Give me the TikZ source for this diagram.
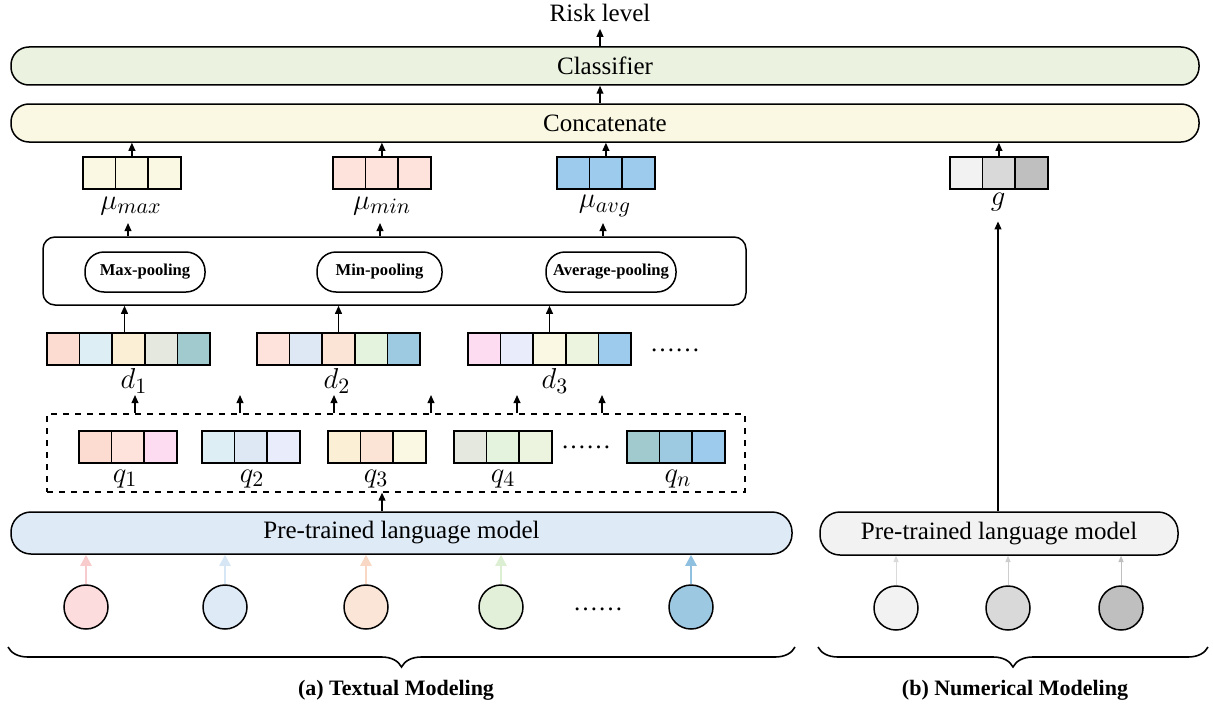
\documentclass[tikz,border=0pt]{standalone}
\usepackage{fontspec}
\setmainfont{Liberation Serif}
\newfontfamily\tnr{Liberation Serif}
\usetikzlibrary{arrows.meta,decorations.pathreplacing}
\definecolor{clsfill}{HTML}{EBF3E0}
\definecolor{catfill}{HTML}{FAF8E2}
\definecolor{plmA}{HTML}{DEEAF6}
\definecolor{plmB}{HTML}{F2F2F2}
% cell colours
\definecolor{cA}{HTML}{FCDCD0}
\definecolor{cB}{HTML}{DDEFF5}
\definecolor{cC}{HTML}{FBEFD6}
\definecolor{cD}{HTML}{E5E8DF}
\definecolor{cE}{HTML}{A0CACE}
\definecolor{cF}{HTML}{FDE3DC}
\definecolor{cG}{HTML}{DDE8F4}
\definecolor{cH}{HTML}{FBE3D6}
\definecolor{cI}{HTML}{E3F3DD}
\definecolor{cJ}{HTML}{9DCAE1}
\definecolor{cK}{HTML}{FDDCF2}
\definecolor{cL}{HTML}{E8ECFB}
\definecolor{cM}{HTML}{FAF8E2}
\definecolor{cN}{HTML}{ECF4DF}
\definecolor{cO}{HTML}{9DCBEE}
\definecolor{gA}{HTML}{F2F2F2}
\definecolor{gB}{HTML}{D9D9D9}
\definecolor{gC}{HTML}{BFBFBF}
\definecolor{iA}{HTML}{FCDCDC}
\definecolor{iB}{HTML}{DEEAF6}
\definecolor{iC}{HTML}{FBE5D6}
\definecolor{iD}{HTML}{E2F0D9}
\definecolor{iE}{HTML}{9DC8E2}
\definecolor{aA}{HTML}{F8CCCC}
\definecolor{aB}{HTML}{D6E6F5}
\definecolor{aC}{HTML}{F8D8C4}
\definecolor{aD}{HTML}{DDEFD2}
\definecolor{aE}{HTML}{8FC0E0}
\newcommand\vecrow[4]{%
  \foreach \cc [count=\i] in {#4} {%
    \node[cell, fill=\cc] (#1-\i) at ({#2+(\i-1)*32.6},#3) {};}}
\begin{document}
\begin{tikzpicture}[x=0.5pt,y=-0.5pt,
  arr/.style={-{Triangle[length=4pt,width=3.4pt]}, line width=0.7pt},
  inarr/.style={-{Triangle[length=5.5pt,width=5.5pt]}, line width=1.2pt},
  thinarr/.style={-{Triangle[length=3.2pt,width=2.6pt]}, line width=0.5pt},
  cell/.style={draw, line width=0.75pt, minimum width=16.3pt, minimum height=16pt,
    inner sep=0pt, outer sep=0pt, anchor=north west},
  pill/.style={draw, line width=0.75pt, rounded corners=9pt, inner sep=0pt},
  maintext/.style={font=\tnr\fontsize{12.5}{14}\selectfont},
  mlabel/.style={font=\fontsize{15}{17}\selectfont, inner sep=0pt},
  poolpill/.style={draw, line width=0.75pt, rounded corners=9.5pt, minimum height=20pt,
    inner sep=0pt, font=\tnr\fontsize{8.3}{10}\selectfont\bfseries},
  inp/.style={circle, draw, line width=0.75pt, minimum size=22pt, inner sep=0pt},
  bracestyle/.style={decorate, decoration={brace, mirror, amplitude=10pt}, line width=0.8pt},
  caption/.style={font=\tnr\fontsize{11}{13}\selectfont\bfseries}
]
\useasboundingbox (0,0) rectangle (1213,706);

% top
\node[maintext] (risk) at (600,13) {Risk level};
\node[pill, fill=clsfill, minimum width=594pt, minimum height=19pt, maintext] (cls) at (605,66) {Classifier};
\node[pill, fill=catfill, minimum width=594pt, minimum height=19pt, maintext] (cat) at (605,123) {Concatenate};
\draw[arr] (cls.north -| risk.south) -- (risk.south);
\draw[arr] (cat.north -| risk.south) -- (cls.south -| risk.south);

% pooled vectors
\vecrow{vmax}{83}{157}{cM,cM,cM}
\vecrow{vmin}{333}{157}{cF,cF,cF}
\vecrow{vavg}{557}{157}{cO,cO,cO}
\vecrow{vg}{950}{157}{gA,gB,gC}
\foreach \v in {vmax,vmin,vavg,vg}
  \draw[arr] (\v-2.north) -- (\v-2.north |- cat.south);

\node[mlabel] (lmax) at (131,206) {$\mu_{max}$};
\node[mlabel] (lmin) at (382,206) {$\mu_{min}$};
\node[mlabel] (lavg) at (605,206) {$\mu_{avg}$};
\node[mlabel] (lg) at (998,202) {$g$};

% pooling box
\node[draw, line width=0.75pt, rounded corners=6pt, minimum width=351.5pt, minimum height=34pt] (pool) at (394.5,271) {};
\node[poolpill, minimum width=60pt] (pmax) at (145,272) {Max-pooling};
\node[poolpill, minimum width=62.5pt] (pmin) at (379.5,272) {Min-pooling};
\node[poolpill, minimum width=65pt] (pavg) at (611,272) {Average-pooling};
\coordinate (amax) at (128,223);
\coordinate (amin) at (380,223);
\coordinate (aavg) at (603,223);
\foreach \a in {amax,amin,aavg}
  \draw[arr] (\a |- pool.north) -- (\a);

% document vectors
\vecrow{d1}{47}{333}{cA,cB,cC,cD,cE}
\vecrow{d2}{257}{333}{cF,cG,cH,cI,cJ}
\vecrow{d3}{468}{333}{cK,cL,cM,cN,cO}
\node[maintext] (ddots) at (675,350) {……};
\draw[arr] ([xshift=-2pt]d1-3.north) -- ([xshift=-2pt]d1-3.north |- pool.south);
\draw[arr] (d2-3.north) -- (d2-3.north |- pool.south);
\draw[arr] (d3-3.north) -- (d3-3.north |- pool.south);
\node[mlabel] (ld1) at (134,381) {$d_1$};
\node[mlabel] (ld2) at (337,381) {$d_2$};
\node[mlabel] (ld3) at (555,381) {$d_3$};

% dashed box with sentence vectors
\node[draw, dashed, line width=0.6pt, minimum width=349pt, minimum height=39pt] (dash) at (396,453) {};
\vecrow{q1}{79}{431}{cA,cF,cK}
\vecrow{q2}{202}{431}{cB,cG,cL}
\vecrow{q3}{328}{431}{cC,cH,cM}
\vecrow{q4}{454}{431}{cD,cI,cN}
\vecrow{qn}{627}{431}{cE,cJ,cO}
\node[maintext] (qdots) at (586,447) {……};
\node[mlabel] (lq1) at (125,479) {$q_1$};
\node[mlabel] (lq2) at (252,479) {$q_2$};
\node[mlabel] (lq3) at (376,479) {$q_3$};
\node[mlabel] (lq4) at (503,479) {$q_4$};
\node[mlabel] (lqn) at (678,479) {$q_n$};
\foreach \x [count=\k] in {135,240,334,431,517,602} {
  \coordinate (t\k) at (\x,395);
  \draw[arr] (t\k |- dash.north) -- (t\k);
}

% language models
\node[pill, fill=plmA, minimum width=390.5pt, minimum height=21pt, rounded corners=10pt, maintext] (plmL) at (401.5,533) {Pre-trained language model};
\node[pill, fill=plmB, minimum width=179pt, minimum height=21.5pt, rounded corners=10pt, maintext] (plmR) at (999,533.5) {Pre-trained language model};
\coordinate (aq) at (382,0);
\draw[arr] (aq |- plmL.north) -- (aq |- dash.south);
\draw[arr, shorten >=5pt] (plmR.north -| lg.south) -- (lg.south);

% inputs
\node[inp, fill=iA] (c1) at (86,607) {};
\node[inp, fill=iB] (c2) at (225,607) {};
\node[inp, fill=iC] (c3) at (366,607) {};
\node[inp, fill=iD] (c4) at (501,607) {};
\node[inp, fill=iE] (c5) at (691,607) {};
\node[maintext] (cdots) at (598,609) {……};
\draw[inarr, draw=aA] (c1.north) -- (c1.north |- plmL.south);
\draw[inarr, draw=aB] (c2.north) -- (c2.north |- plmL.south);
\draw[inarr, draw=aC] (c3.north) -- (c3.north |- plmL.south);
\draw[inarr, draw=aD] (c4.north) -- (c4.north |- plmL.south);
\draw[inarr, draw=aE] (c5.north) -- (c5.north |- plmL.south);

\node[inp, fill=gA] (g1) at (896,608) {};
\node[inp, fill=gB] (g2) at (1008,608) {};
\node[inp, fill=gC] (g3) at (1121,608) {};
\draw[thinarr, draw=gA!90!black] (g1.north) -- (g1.north |- plmR.south);
\draw[thinarr, draw=gB!95!black] (g2.north) -- (g2.north |- plmR.south);
\draw[thinarr, draw=gC] (g3.north) -- (g3.north |- plmR.south);

% braces and captions
\coordinate (bl1) at (8,647);
\coordinate (bl2) at (795,647);
\coordinate (br1) at (818,647);
\coordinate (br2) at (1208,647);
\draw[bracestyle] (bl1) -- (bl2);
\draw[bracestyle] (br1) -- (br2);
\node[caption] (capa) at (396,690) {(a) Textual Modeling};
\node[caption] (capb) at (1015,690) {(b) Numerical Modeling};
\end{tikzpicture}
\end{document}
